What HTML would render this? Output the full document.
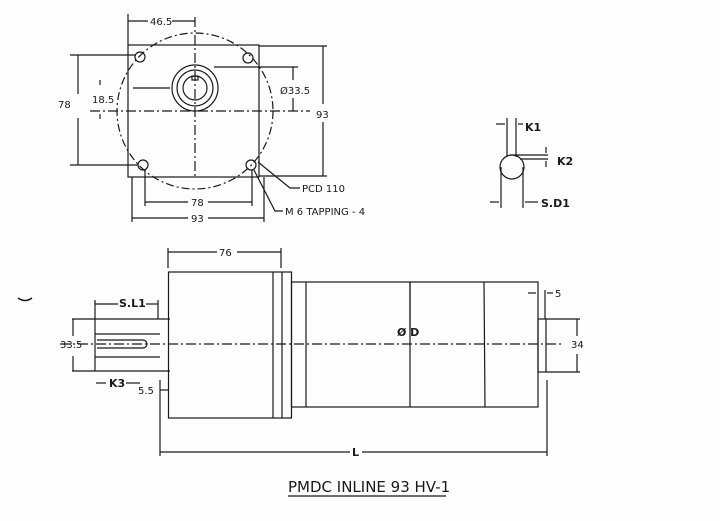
<!DOCTYPE html>
<html><head><meta charset="utf-8"><style>
html,body{margin:0;padding:0;background:#fdfdfd;}
svg{display:block;}
text{font-family:"DejaVu Sans","Liberation Sans",sans-serif;fill:#1a1a1a;}
</style></head><body>
<svg width="720" height="521" viewBox="0 0 720 521" xmlns="http://www.w3.org/2000/svg">
<rect width="720" height="521" fill="#fdfdfd"/>
<g stroke="#1a1a1a" stroke-width="1.2" fill="none">
<rect x="128" y="45" width="131" height="132"/>
<circle cx="195" cy="111" r="78" stroke-dasharray="8,3,2,3"/>
<circle cx="195" cy="88" r="23"/>
<circle cx="195" cy="88" r="18"/>
<circle cx="195" cy="88" r="12"/>
<rect x="192" y="76" width="6" height="4"/>
<circle cx="140" cy="57" r="5"/>
<circle cx="248" cy="58" r="5"/>
<circle cx="143" cy="165" r="5"/>
<circle cx="251" cy="165" r="5"/>
<line x1="195" y1="17" x2="195" y2="177" stroke-dasharray="10,3,2,3"/>
<line x1="90" y1="111" x2="310" y2="111" stroke-dasharray="10,3,2,3"/>
<line x1="133" y1="88" x2="170" y2="88"/>
<line x1="128" y1="14" x2="128" y2="45"/>
<line x1="128" y1="21" x2="148" y2="21"/><line x1="172" y1="21" x2="195" y2="21"/>
<line x1="70" y1="55" x2="136" y2="55"/><line x1="70" y1="165" x2="138" y2="165"/>
<line x1="78" y1="55" x2="78" y2="94"/><line x1="78" y1="118" x2="78" y2="165"/>
<line x1="100" y1="80" x2="100" y2="85"/><line x1="100" y1="114" x2="100" y2="119"/>
<line x1="214" y1="67" x2="298" y2="67"/>
<line x1="293" y1="67" x2="293" y2="80"/><line x1="293" y1="98" x2="293" y2="111"/>
<line x1="259" y1="46" x2="327" y2="46"/><line x1="259" y1="176" x2="327" y2="176"/>
<line x1="323" y1="46" x2="323" y2="104"/><line x1="323" y1="122" x2="323" y2="176"/>
<line x1="145" y1="170" x2="145" y2="206"/><line x1="252" y1="170" x2="252" y2="206"/>
<line x1="145" y1="202" x2="188" y2="202"/><line x1="208" y1="202" x2="252" y2="202"/>
<line x1="132" y1="177" x2="132" y2="222"/><line x1="264" y1="177" x2="264" y2="222"/>
<line x1="132" y1="218" x2="188" y2="218"/><line x1="208" y1="218" x2="264" y2="218"/>
<polyline points="258,162 290,188 300,188"/>
<polyline points="254,170 275,211 283,211"/>
<circle cx="512" cy="167" r="12"/>
<line x1="507" y1="118" x2="507" y2="157"/><line x1="516" y1="118" x2="516" y2="157"/>
<line x1="496" y1="124" x2="505" y2="124"/><line x1="518" y1="124" x2="523" y2="124"/>
<line x1="510" y1="155" x2="548" y2="155"/><line x1="520" y1="159" x2="548" y2="159"/>
<line x1="546" y1="147" x2="546" y2="153"/><line x1="546" y1="161" x2="546" y2="167"/>
<line x1="501" y1="167" x2="501" y2="208"/><line x1="523" y1="167" x2="523" y2="208"/>
<line x1="490" y1="202" x2="499" y2="202"/><line x1="525" y1="202" x2="538" y2="202"/>
<rect x="168.5" y="272" width="123" height="146"/>
<line x1="273" y1="272" x2="273" y2="418"/><line x1="282" y1="272" x2="282" y2="418"/>
<rect x="291.5" y="282" width="246.5" height="125"/>
<line x1="306" y1="282" x2="306" y2="407"/>
<line x1="410" y1="282" x2="410" y2="407"/>
<line x1="484" y1="282" x2="485" y2="407"/>
<line x1="72" y1="319" x2="170" y2="319"/><line x1="72" y1="371" x2="170" y2="371"/>
<line x1="95" y1="319" x2="95" y2="371"/>
<line x1="95" y1="334" x2="160" y2="334"/><line x1="95" y1="357" x2="160" y2="357"/>
<path d="M97 340 H143 A4 4 0 0 1 143 348 H97"/>
<rect x="538" y="319" width="8" height="53"/>
<line x1="60" y1="344" x2="562" y2="344" stroke-dasharray="10,3,2,3"/>
<line x1="73" y1="319" x2="73" y2="336"/><line x1="73" y1="356" x2="73" y2="371"/>
<line x1="95" y1="300" x2="95" y2="319"/><line x1="158" y1="300" x2="158" y2="319"/>
<line x1="95" y1="304" x2="118" y2="304"/><line x1="146" y1="304" x2="158" y2="304"/>
<line x1="96" y1="383" x2="106" y2="383"/><line x1="126" y1="383" x2="140" y2="383"/>
<line x1="160" y1="390" x2="168" y2="390"/>
<line x1="160" y1="380" x2="160" y2="456"/>
<line x1="168" y1="248" x2="168" y2="268"/><line x1="281" y1="248" x2="281" y2="268"/>
<line x1="168" y1="252" x2="217" y2="252"/><line x1="237" y1="252" x2="281" y2="252"/>
<line x1="410" y1="282" x2="410" y2="330"/>
<line x1="545" y1="290" x2="545" y2="319"/><line x1="528" y1="293" x2="536" y2="293"/><line x1="547" y1="293" x2="553" y2="293"/>
<line x1="546" y1="319" x2="580" y2="319"/><line x1="546" y1="372" x2="580" y2="372"/>
<line x1="577" y1="319" x2="577" y2="336"/><line x1="577" y1="354" x2="577" y2="372"/>
<line x1="547" y1="380" x2="547" y2="456"/>
<line x1="160" y1="452" x2="350" y2="452"/><line x1="362" y1="452" x2="547" y2="452"/>
<line x1="288" y1="496" x2="446" y2="496" stroke-width="1.3"/>
<path d="M18 298 Q25 303 32 298" stroke-width="1.5"/>
</g>
<g font-size="10">
<text x="150" y="25">46.5</text>
<text x="58" y="108">78</text>
<text x="92" y="103">18.5</text>
<text x="280" y="94">Ø33.5</text>
<text x="316" y="118">93</text>
<text x="302" y="192">PCD 110</text>
<text x="285" y="215">M 6 TAPPING - 4</text>
<text x="191" y="206">78</text>
<text x="191" y="222">93</text>
<text x="219" y="256">76</text>
<text x="60" y="348">33.5</text>
<text x="138" y="394">5.5</text>
<text x="571" y="348">34</text>
<text x="555" y="297">5</text>
</g>
<g font-size="11" font-weight="bold">
<text x="525" y="131">K1</text>
<text x="557" y="165">K2</text>
<text x="541" y="207">S.D1</text>
<text x="119" y="307">S.L1</text>
<text x="109" y="387">K3</text>
<text x="397" y="336">Ø D</text>
<text x="352" y="456">L</text>
</g>
<text x="288" y="492" font-size="15" font-family="Liberation Sans, sans-serif">PMDC INLINE 93 HV-1</text>
</svg>
</body></html>
